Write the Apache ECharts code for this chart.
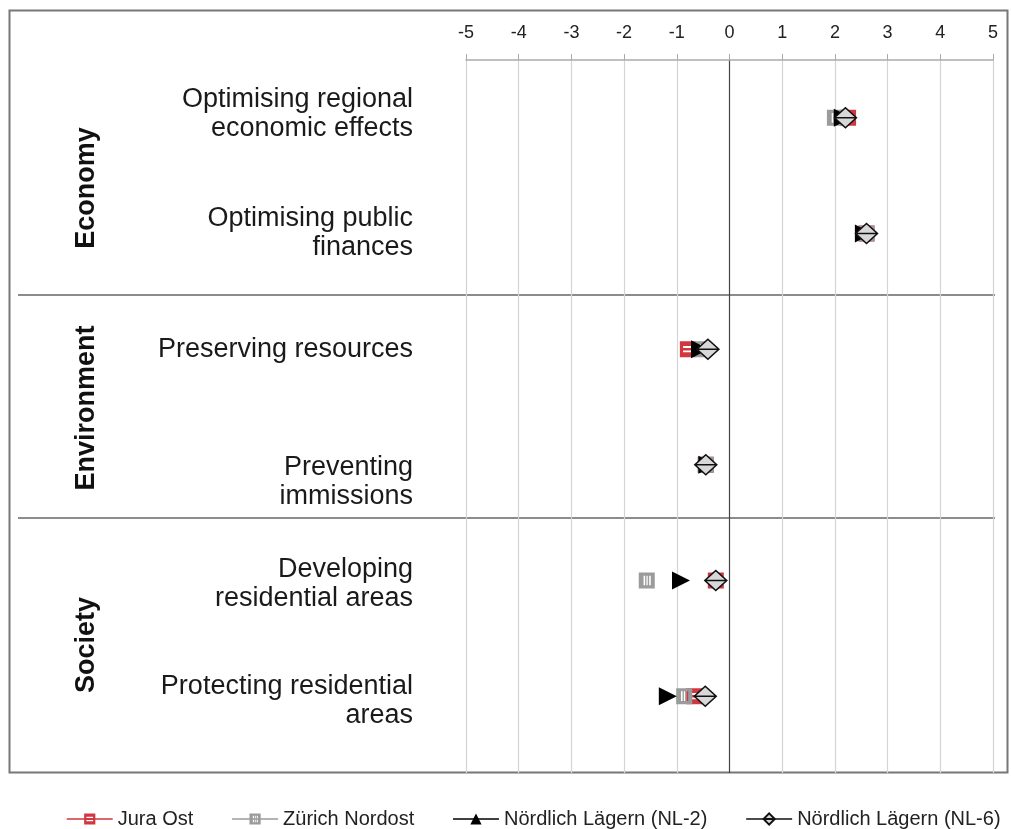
<!DOCTYPE html>
<html>
<head>
<meta charset="utf-8">
<script src="https://cdn.jsdelivr.net/npm/echarts@6/dist/echarts.min.js"></script>
<style>
html,body{margin:0;padding:0;background:#fff;}
#chart{width:1011px;height:829px;}
</style>
</head>
<body>
<div id="chart"></div>
<script>
const categories = [
  "Optimising regional\neconomic effects",
  "Optimising public\nfinances",
  "Preserving resources",
  "Preventing\nimmissions",
  "Developing\nresidential areas",
  "Protecting residential\nareas"
];
const groups = ["Economy", "Environment", "Society"];
const xTicks = [-5, 5, 1];
const juraOst = [2.25, 2.6, -0.79, -0.45, -0.26, -0.67];
const zuerichNordost = [2.0, 2.6, -0.5, -0.45, -1.57, -0.86];
const nl2 = [2.15, 2.55, -0.56, -0.42, -0.92, -1.17];
const nl6 = [2.2, 2.6, -0.41, -0.45, -0.26, -0.46];
const seriesNames = ["Jura Ost", "Zürich Nordost", "Nördlich Lägern (NL-2)", "Nördlich Lägern (NL-6)"];

const RED = '#d2373f', GRAY = '#9b9b9b';
const juraSym = 'path://M0,0L10,0L10,10L0,10Z M2,3L2,4.2L8,4.2L8,3Z M2,5.8L2,7L8,7L8,5.8Z';
const znSym = 'path://M0,0L10,0L10,10L0,10Z M3,2L3,8L4,8L4,2Z M4.8,2L4.8,8L5.6,8L5.6,2Z M6.5,2L6.5,8L7.5,8L7.5,2Z';
const diaSym = 'path://M5,0L10,5L5,10L0,5Z M0.5,5L9.5,5';

const FONT = 'Liberation Sans, Arial, sans-serif';
const splitColors = [];
for (let v = xTicks[0]; v <= xTicks[1]; v += xTicks[2]) splitColors.push(v === 0 ? '#444' : '#d4d4d4');

// vertical nudge of each label block (px, + = down), as in the original layout
const labelShift = [-4, 0, 0, 17, 4, 5];
function labelFmt(value, index) {
  const lines = value.split('\n').map(l => '{t|' + l + '}');
  const s = labelShift[index] || 0;
  if (s > 0) lines.unshift('{s' + (2 * s) + '| }');
  if (s < 0) lines.push('{s' + (-2 * s) + '| }');
  return lines.join('\n');
}
const rich = {t: {fontSize: 27, lineHeight: 29, color: '#1a1a1a', fontFamily: FONT, align: 'right'}};
labelShift.forEach(s => { const h = Math.abs(2 * s); if (h) rich['s' + h] = {fontSize: 1, lineHeight: h, height: h}; });

function mk(name, data, symbol, size, color, extra) {
  return Object.assign({
    name: name, type: 'line', xAxisIndex: 1, yAxisIndex: 1,
    data: data, symbol: symbol, symbolSize: size, showSymbol: true,
    lineStyle: {opacity: 0, color: color, width: 1.5},
    itemStyle: {color: color, borderColor: color, borderWidth: 0, opacity: 1},
    emphasis: {disabled: true}, silent: true, animation: false
  }, extra || {});
}

const chart = echarts.init(document.getElementById('chart'));
chart.setOption({
  animation: false,
  textStyle: {fontFamily: FONT},
  grid: [
    {left: 466, right: 18, top: 60, bottom: 56},
    {left: 466, right: 18, top: 60, bottom: 75}
  ],
  xAxis: [
    {gridIndex: 0, type: 'value', min: xTicks[0], max: xTicks[1], interval: xTicks[2], position: 'top',
     axisLine: {show: true, onZero: false, lineStyle: {color: '#aaa', width: 1.5}},
     axisTick: {show: true, length: 6, lineStyle: {color: '#aaa'}},
     axisLabel: {fontSize: 18, color: '#222', margin: 18, fontFamily: FONT},
     splitLine: {show: true, lineStyle: {color: splitColors, width: 1.2}}},
    {gridIndex: 1, type: 'value', min: xTicks[0], max: xTicks[1], interval: xTicks[2], show: false}
  ],
  yAxis: [
    {gridIndex: 0, type: 'value', min: 0, max: 1, show: false},
    {gridIndex: 1, type: 'category', data: categories, inverse: true,
     axisLine: {show: false}, axisTick: {show: false}, splitLine: {show: false},
     axisLabel: {fontSize: 27, color: '#1a1a1a', margin: 53, lineHeight: 29, align: 'right', fontFamily: FONT,
       formatter: labelFmt, rich: rich}}
  ],
  legend: {
    top: 804, left: 61, width: 948, itemWidth: 46, itemHeight: 14, itemGap: 38,
    textStyle: {fontSize: 20, color: '#222', fontFamily: FONT},
    symbolRotate: 0,
    lineStyle: {opacity: 1, width: 1.5},
    data: seriesNames
  },
  graphic: [
    {type: 'rect', shape: {x: 9.5, y: 10.5, width: 998, height: 762}, style: {fill: 'none', stroke: '#777', lineWidth: 2}, silent: true},
    {type: 'line', shape: {x1: 18, y1: 295, x2: 995, y2: 295}, style: {stroke: '#666', lineWidth: 1.3}, silent: true},
    {type: 'line', shape: {x1: 18, y1: 518, x2: 995, y2: 518}, style: {stroke: '#666', lineWidth: 1.3}, silent: true},
    {type: 'text', x: 87, y: 188, rotation: Math.PI / 2, style: {text: groups[0], font: 'bold 27px ' + FONT, fill: '#111', align: 'center', verticalAlign: 'middle'}, silent: true},
    {type: 'text', x: 87, y: 408, rotation: Math.PI / 2, style: {text: groups[1], font: 'bold 27px ' + FONT, fill: '#111', align: 'center', verticalAlign: 'middle'}, silent: true},
    {type: 'text', x: 87, y: 645, rotation: Math.PI / 2, style: {text: groups[2], font: 'bold 27px ' + FONT, fill: '#111', align: 'center', verticalAlign: 'middle'}, silent: true}
  ],
  series: [
    mk(seriesNames[0], juraOst, juraSym, 16, RED),
    mk(seriesNames[1], zuerichNordost, znSym, 16, GRAY),
    mk(seriesNames[2], nl2, 'triangle', 18, '#000', {symbolRotate: -90}),
    Object.assign(mk(seriesNames[3], nl6, diaSym, [22, 20], '#111'),
      {itemStyle: {color: '#d8d8d8', borderColor: '#111', borderWidth: 1.5, opacity: 1}, lineStyle: {opacity: 0, color: '#111', width: 1.5}})
  ]
});
</script>
</body>
</html>
